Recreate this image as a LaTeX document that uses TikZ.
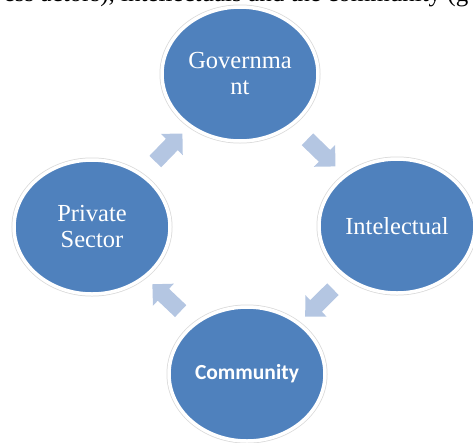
\documentclass[tikz,border=0pt]{standalone}
\usepackage{fontspec}
\setmainfont{Liberation Serif}
\newfontfamily\commfont{Carlito}
\usetikzlibrary{positioning,shapes.geometric,shapes.arrows}
\definecolor{cycleblue}{HTML}{4F81BD}
\definecolor{arrowblue}{HTML}{B4C6E2}

\begin{document}
\begin{tikzpicture}[x=1pt, y=-1pt, allow upside down,
		actor/.style={ellipse, fill=cycleblue, draw=white, line width=3.5pt,
		preaction={draw=gray!30, line width=5pt},
		minimum width=156pt, minimum height=134pt, inner sep=0pt,
		text=white, align=center, font=\fontsize{24.5}{26}\selectfont},
		cyclearrow/.style={single arrow, fill=arrowblue, inner sep=8pt,
		minimum height=39pt, single arrow head extend=7pt, sloped}]
		\useasboundingbox (0,0) rectangle (473,442);
		\node [anchor=base, font=\fontsize{25}{27}\selectfont] (line) at (236,1)
		{ess actors), intellectuals and the community (g};
		\node [actor] (G) at (240,74) {Governma\\nt};
		\node [actor] (I) at (397,226) {Intelectual};
		\node [actor, font=\commfont\bfseries\fontsize{21.5}{24}\selectfont] (C) at (247,374) {Community};
		\node [actor] (P) at (92,227) {Private\\Sector};
		\path (P) -- (G) node[midway, cyclearrow] (a1) {};
		\path (G) -- (I) node[midway, cyclearrow] (a2) {};
		\path (I) -- (C) node[midway, cyclearrow] (a3) {};
		\path (C) -- (P) node[midway, cyclearrow] (a4) {};
\end{tikzpicture}
\end{document}
